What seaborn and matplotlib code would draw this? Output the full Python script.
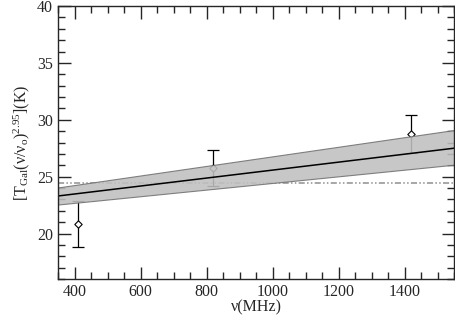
import numpy as np
import pandas as pd
import matplotlib
matplotlib.use("Agg")
import matplotlib.pyplot as plt
from matplotlib.ticker import MultipleLocator
import seaborn as sns

# measured points
freq = [410, 820, 1420]
temp = [20.85, 25.75, 28.75]
err = [2.05, 1.6, 1.7]

# fitted line and its band
fit_x = [350, 1550]
fit_y = [23.3, 27.5]
band_lo = [22.55, 26.05]
band_hi = [24.05, 29.1]

# flat reference level
flat_y = 24.45

sns.set_style("ticks")
plt.rcParams['font.family'] = ['Liberation Serif', 'DejaVu Serif']
plt.rcParams['mathtext.fontset'] = 'custom'
plt.rcParams['mathtext.rm'] = 'Liberation Serif'
plt.rcParams['mathtext.it'] = 'Liberation Serif:italic'

fig = plt.figure(figsize=(4.55, 3.16), dpi=100)
ax = fig.add_axes([0.1275, 0.117, 0.8705, 0.864])

ax.axhline(flat_y, color="#909090", lw=1.1, ls=(0, (4, 1.5, 1, 1.5, 1, 1.5)), zorder=1)

ax.errorbar(freq, temp, yerr=err, fmt="none", ecolor="black", elinewidth=0.9,
            capsize=4, capthick=0.9, zorder=1)
pts = pd.DataFrame({"freq": freq, "temp": temp})
sns.scatterplot(data=pts, x="freq", y="temp", marker="D", s=14, facecolor="white",
                edgecolor="black", linewidth=0.8, ax=ax, zorder=1.5)

ax.fill_between(fit_x, band_lo, band_hi, facecolor="#c0c0c0", edgecolor="#707070",
                lw=0.8, alpha=0.88, zorder=3)
fit = pd.DataFrame({"x": fit_x, "y": fit_y})
sns.lineplot(data=fit, x="x", y="y", color="black", lw=1.1, ax=ax, zorder=4)

ax.set_xlim(350, 1550)
ax.set_ylim(16, 40)
ax.xaxis.set_major_locator(MultipleLocator(200))
ax.xaxis.set_minor_locator(MultipleLocator(50))
ax.yaxis.set_major_locator(MultipleLocator(5))
ax.yaxis.set_minor_locator(MultipleLocator(1))
ax.tick_params(which="both", direction="in", top=True, right=True, labelsize=11.5, width=1.0)
ax.tick_params(which="major", length=9)
ax.tick_params(which="minor", length=5)
for sp in ax.spines.values():
    sp.set_linewidth(1.0)
    sp.set_zorder(5)

ax.set_xlabel("ν(MHz)", fontsize=11.5, labelpad=0)
ax.set_ylabel(r"[T$_{\mathrm{Gal}}$(ν/ν$_{\mathrm{o}}$)$^{2.95}$](K)", fontsize=11.5, labelpad=4)

fig.savefig("out.png", dpi=100)
